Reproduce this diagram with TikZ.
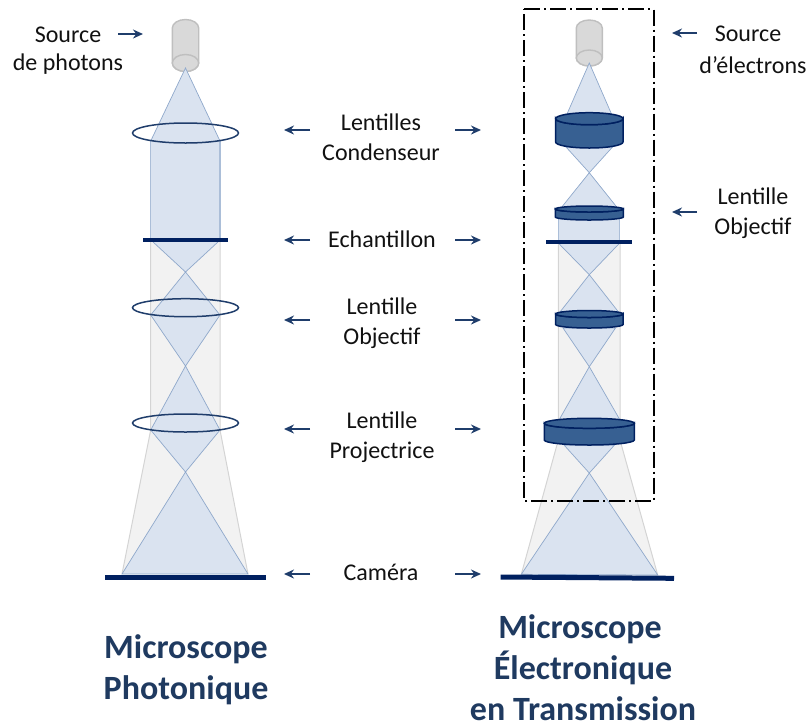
\documentclass[tikz,border=0pt]{standalone}
\usepackage{fontspec}
\setmainfont{Carlito}
\usetikzlibrary{arrows.meta}
\definecolor{beamfill}{HTML}{DAE3F0}
\definecolor{beamedge}{HTML}{8FA8CB}
\definecolor{halo}{HTML}{F2F2F2}
\definecolor{haloedge}{HTML}{D4D4D4}
\definecolor{navy}{HTML}{002060}
\definecolor{steel}{HTML}{376092}
\definecolor{arrowblue}{HTML}{1F3D6B}
\definecolor{titleblue}{HTML}{1F3A60}
\definecolor{txt}{HTML}{111111}
\tikzset{
  x=1pt,y=-1pt,
  beam/.style={fill=beamfill,draw=beamedge,line width=0.7pt,line join=miter},
  beamside/.style={draw=beamedge!75,line width=1.2pt},
  haloshape/.style={fill=halo,draw=none},
  haloline/.style={draw=haloedge,line width=1pt},
  ring/.style={draw=arrowblue,line width=1.5pt},
  bar/.style={draw=navy,line width=4pt},
  cambar/.style={draw=navy,line width=5pt},
  gun/.style={fill=gray!30,draw=gray!50,line width=1.4pt},
  disc/.style={fill=steel,draw=navy,line width=1.5pt},
  label/.style={font=\fontsize{24}{30}\selectfont,text=txt,inner sep=0pt,anchor=center},
  maintitle/.style={font=\fontsize{34}{41}\selectfont\bfseries,text=titleblue,inner sep=0pt,anchor=base},
  pointer/.style={draw=arrowblue,line width=1.8pt,-{Stealth[length=10pt,width=9pt]}},
  frame/.style={draw=black,line width=1.8pt,dash pattern=on 16pt off 4pt on 2pt off 4pt}
}
% #1 centre x, #2 half width, #3 top-ellipse y, #4 bottom-ellipse y, #5 ellipse y radius
\newcommand{\lensdisc}[5]{%
  \draw[disc] (#1-#2,#3) -- (#1-#2,#4) arc[start angle=180,end angle=360,x radius=#2pt,y radius=#5pt] -- (#1+#2,#3) arc[start angle=0,end angle=-180,x radius=#2pt,y radius=#5pt] -- cycle;
  \draw[disc] (#1,#3) ellipse[x radius=#2pt,y radius=#5pt];
}
% #1 centre x, #2 half width, #3 top y, #4 bottom-ellipse y, #5 ellipse y radius
\newcommand{\srcgun}[5]{%
  \draw[gun] (#1-#2,#3+#5) arc[start angle=180,end angle=0,x radius=#2pt,y radius=#5pt] -- (#1+#2,#4) arc[start angle=360,end angle=180,x radius=#2pt,y radius=#5pt] -- cycle;
  \draw[gun] (#1,#4) ellipse[x radius=#2pt,y radius=#5pt];
}
\begin{document}
\begin{tikzpicture}
\useasboundingbox (0,0) rectangle (808,724);

% ---------- Left microscope ----------
\fill[haloshape] (150.7,240) -- (220,240) -- (220,430) -- (248,574) -- (122,574) -- (150.7,430) -- cycle;
\draw[haloline] (150.7,240) -- (150.7,430) -- (122,574);
\draw[haloline] (220,240) -- (220,430) -- (248,574);
\srcgun{185.5}{13.2}{19.5}{63}{8.5}
\fill[beamfill] (150.7,140) rectangle (220,240);
\draw[beamside] (150.7,140) -- (150.7,240) (220,140) -- (220,240);
\fill[beamfill] (185.5,68) -- (150.7,141) -- (220,141) -- cycle;
\draw[beamedge,line width=0.7pt] (150.7,141) -- (185.5,68) -- (220,141);
\draw[beam] (152,241) -- (185.5,272) -- (219,241) -- cycle;
\draw[beam] (185.5,272) -- (150.7,315) -- (185.5,366) -- (220,315) -- cycle;
\draw[beam] (185.5,366) -- (150.7,430) -- (185.5,472) -- (220,430) -- cycle;
\draw[beam] (185.5,472) -- (122,574) -- (248,574) -- cycle;
\draw[ring] (185.5,133) ellipse[x radius=53pt,y radius=10pt];
\draw[ring] (185.5,307.7) ellipse[x radius=53pt,y radius=9pt];
\draw[ring] (185.5,423) ellipse[x radius=53pt,y radius=9pt];
\draw[bar] (143,240) -- (228,240);
\draw[cambar] (105,577) -- (266,577);

% ---------- Right microscope ----------
\fill[haloshape] (558.3,242) -- (620,242) -- (620,440) -- (657.7,575) -- (521.3,574.3) -- (558.3,440) -- cycle;
\draw[haloline] (558.3,242) -- (558.3,440) -- (521.3,574.3);
\draw[haloline] (620,242) -- (620,440) -- (657.7,575);
\srcgun{589.3}{13}{20}{58}{8}
\draw[beam] (589.3,63) -- (567,114) -- (611.5,114) -- cycle;
\draw[beam] (566,147) -- (589.3,172.7) -- (612.5,147) -- cycle;
\draw[beam] (589.3,172.7) -- (561,208) -- (617.5,208) -- cycle;
\fill[beamfill] (558.3,215) rectangle (619.7,242);
\draw[beamside] (558.3,215) -- (558.3,242) (619.7,215) -- (619.7,242);
\draw[beam] (558.3,243) -- (589.3,274.7) -- (619.7,243) -- cycle;
\draw[beam] (589.3,274.7) -- (560,312) -- (618.5,312) -- cycle;
\draw[beam] (563,328) -- (589.3,366.7) -- (615.5,328) -- cycle;
\draw[beam] (589.3,366.7) -- (559,420) -- (620,420) -- cycle;
\draw[beam] (564,445) -- (589.3,473) -- (614.5,445) -- cycle;
\draw[beam] (589.3,473) -- (521.3,574.3) -- (657.7,575) -- cycle;
\lensdisc{589.3}{33.7}{118.7}{142}{6}
\lensdisc{589.3}{34}{209}{217}{3}
\lensdisc{589.3}{33.7}{314}{324.5}{3.5}
\lensdisc{589.3}{45}{423.3}{440}{5}
\draw[bar] (546,242) -- (632,242);
\draw[cambar] (500.7,577) -- (674,578.3);
\draw[frame] (524.3,9) -- (653.7,9) -- (653.7,501) -- (524.3,501) -- cycle;

% ---------- Labels ----------
\node[label] (srcA) at (68,35) {Source};
\node[label] (srcB) at (68,64) {de photons};
\node[label] (lc) at (381,139) {\begin{tabular}{@{}c@{}}Lentilles\\Condenseur\end{tabular}};
\node[label] (ech) at (382,239) {Echantillon};
\node[label] (lo) at (382,323) {\begin{tabular}{@{}c@{}}Lentille\\Objectif\end{tabular}};
\node[label] (lp) at (382,437) {\begin{tabular}{@{}c@{}}Lentille\\Projectrice\end{tabular}};
\node[label] (cam) at (381,572) {Caméra};
\node[label] (seA) at (748,34) {Source};
\node[label] (seB) at (753,65) {d’électrons};
\node[label] (loe) at (753,213) {\begin{tabular}{@{}c@{}}Lentille\\Objectif\end{tabular}};
\node[maintitle] (t1a) at (186,658) {Microscope};
\node[maintitle] (t1b) at (186,699) {Photonique};
\node[maintitle] (t2a) at (580,638) {Microscope};
\node[maintitle] (t2b) at (583,679) {Électronique};
\node[maintitle] (t2c) at (583,720) {en Transmission};

% ---------- Pointers ----------
\foreach \n/\xa/\ya/\xb/\yb in {
  a/118/34/143/34, b/310/130/284/130, c/455/130/481/130,
  d/310/240/284/240, e/455/240/481/240,
  f/310/320/284/320, g/455/320/481/320,
  h/310/429/284/429, i/455/429/481/429,
  j/310/574/284/574, k/455/574/481/574,
  l/697/33/672/33, m/697/212/672/212}{
  \coordinate (\n from) at (\xa,\ya);
  \coordinate (\n to) at (\xb,\yb);
  \draw[pointer] (\n from) -- (\n to);
}
\end{tikzpicture}
\end{document}
